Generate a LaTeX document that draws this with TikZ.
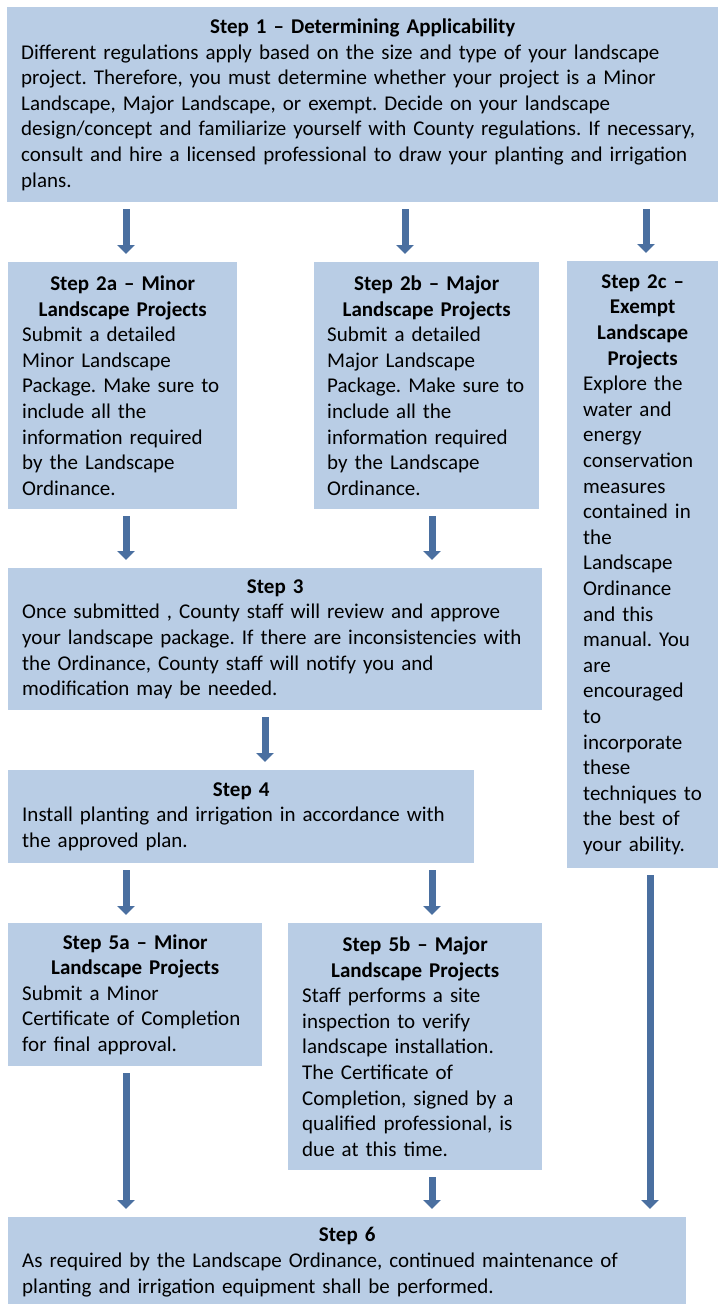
\documentclass[tikz,border=0pt]{standalone}
\usepackage{fontspec}
\setmainfont{Carlito}
\usetikzlibrary{arrows.meta}
\definecolor{boxblue}{HTML}{B9CDE5}
\definecolor{arrowblue}{HTML}{4A6FA0}
\tikzset{
  stepbox/.style={fill=boxblue, anchor=north west, inner xsep=14pt, inner ysep=0pt,
    align=left, font=\fontsize{21}{25.6}\selectfont\frenchspacing},
  flow/.style={arrowblue, line width=7pt, -{Triangle[width=17pt,length=9pt]},
    shorten <=7pt, shorten >=8pt}
}
\newcommand{\steptitle}[1]{{\centering\bfseries #1\par}}

\begin{document}
\begin{tikzpicture}[x=1pt,y=-1pt]
  \useasboundingbox (0,0) rectangle (718,1304);

  % arrow columns
  \coordinate (colminor) at (126,0);
  \coordinate (colsplit) at (405,0);
  \coordinate (colmajor) at (432,0);
  \coordinate (colmid) at (265,0);
  \coordinate (colexempt) at (646,0);
  \coordinate (colexit) at (650,0);

  \node[stepbox, text width=683pt, minimum height=195pt] (s1) at (7,7)
    {\steptitle{Step 1 – Determining Applicability}
     Different regulations apply based on the size and type of your landscape\\
     project. Therefore, you must determine whether your project is a Minor\\
     Landscape, Major Landscape, or exempt. Decide on your landscape\\
     design/concept and familiarize yourself with County regulations. If necessary,\\
     consult and hire a licensed professional to draw your planting and irrigation\\
     plans.};

  \node[stepbox, text width=201pt, minimum height=247pt] (s2a) at (8,262)
    {\steptitle{Step 2a – Minor\\Landscape Projects}
     Submit a detailed\\Minor Landscape\\Package. Make sure to\\include all the\\
     information required\\by the Landscape\\Ordinance.};
  \node[stepbox, inner xsep=13pt, text width=199pt, minimum height=247pt] (s2b) at (314,262)
    {\steptitle{Step 2b – Major\\Landscape Projects}
     Submit a detailed\\Major Landscape\\Package. Make sure to\\include all the\\
     information required\\by the Landscape\\Ordinance.};
  \node[stepbox, inner xsep=16pt, text width=119pt, minimum height=607pt] (s2c) at (567,261)
    {\steptitle{Step 2c –\\Exempt\\Landscape\\Projects}
     Explore the\\water and\\energy\\conservation\\measures\\contained in\\the\\
     Landscape\\Ordinance\\and this\\manual. You\\are\\encouraged\\to\\
     incorporate\\these\\techniques to\\the best of\\your ability.};

  \node[stepbox, text width=506pt, minimum height=142pt] (s3) at (8,568)
    {\steptitle{Step 3}
     Once submitted , County staff will review and approve\\
     your landscape package. If there are inconsistencies with\\
     the Ordinance, County staff will notify you and\\
     modification may be needed.};

  \node[stepbox, text width=438pt, minimum height=93pt] (s4) at (8,770)
    {\steptitle{Step 4}
     Install planting and irrigation in accordance with\\
     the approved plan.};

  \node[stepbox, text width=226pt, minimum height=143pt] (s5a) at (8,923)
    {\steptitle{Step 5a – Minor\\Landscape Projects}
     Submit a Minor\\Certificate of Completion\\
     for final approval.};
  \node[stepbox, text width=226pt, minimum height=247pt] (s5b) at (288,923)
    {\steptitle{Step 5b – Major\\Landscape Projects}
     Staff performs a site\\inspection to verify\\landscape installation.\\
     The Certificate of\\Completion, signed by a\\qualified professional, is\\
     due at this time.};

  \node[stepbox, text width=650pt, minimum height=90pt] (s6) at (8,1217)
    {\steptitle{Step 6}
     As required by the Landscape Ordinance, continued maintenance of\\
     planting and irrigation equipment shall be performed.};

  \draw[flow] (s1.south -| colminor) -- (s2a.north -| colminor);
  \draw[flow] (s1.south -| colsplit) -- (s2b.north -| colsplit);
  \draw[flow] (s1.south -| colexempt) -- (s2c.north -| colexempt);
  \draw[flow] (s2a.south -| colminor) -- (s3.north -| colminor);
  \draw[flow] (s2b.south -| colmajor) -- (s3.north -| colmajor);
  \draw[flow] (s3.south -| colmid) -- (s4.north -| colmid);
  \draw[flow] (s4.south -| colminor) -- (s5a.north -| colminor);
  \draw[flow] (s4.south -| colmajor) -- (s5b.north -| colmajor);
  \draw[flow] (s5a.south -| colminor) -- (s6.north -| colminor);
  \draw[flow] (s5b.south -| colmajor) -- (s6.north -| colmajor);
  \draw[flow] (s2c.south -| colexit) -- (s6.north -| colexit);
\end{tikzpicture}
\end{document}
